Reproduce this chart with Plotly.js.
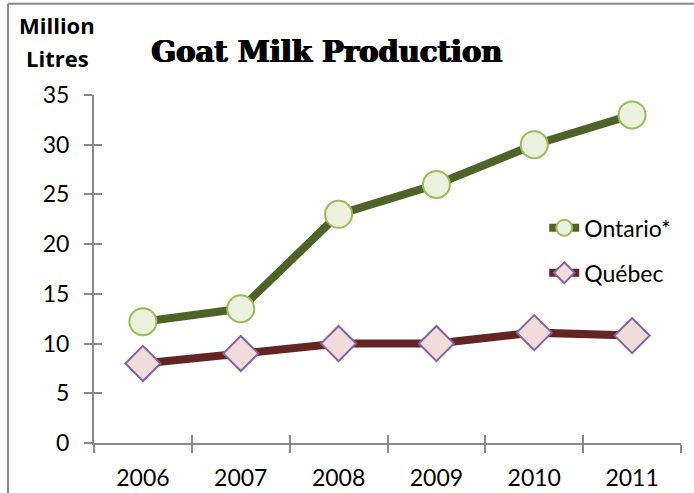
<!DOCTYPE html>
<html>
<head>
<meta charset="utf-8">
<script src="https://cdn.plot.ly/plotly-3.0.1.min.js"></script>
<style>html,body{margin:0;padding:0;background:#fff;}#chart{width:694px;height:493px;}</style>
</head>
<body>
<div id="chart"></div>
<script>
const years = ['2006', '2007', '2008', '2009', '2010', '2011'];
const ontario = [12.2, 13.5, 23.0, 26.0, 30.0, 33.0];
const quebec = [8.0, 9.0, 10.0, 10.0, 11.1, 10.8];
const yTicks = [0, 5, 10, 15, 20, 25, 30, 35];

const axisGray = '#898989';

const traces = [
  {
    x: years, y: ontario, name: 'Ontario*', type: 'scatter', mode: 'lines+markers',
    legendgroup: 'a',
    line: {color: '#4F6228', width: 8},
    marker: {symbol: 'circle', size: 27, color: '#EBF1DE', line: {color: '#9BBB59', width: 2}},
    hoverinfo: 'skip'
  },
  {
    x: years, y: quebec, name: 'Québec', type: 'scatter', mode: 'lines+markers',
    legendgroup: 'b',
    line: {color: '#632523', width: 8},
    marker: {symbol: 'diamond', size: 27, color: '#F2DCDB', line: {color: '#8064A2', width: 2}},
    hoverinfo: 'skip'
  },
  {
    x: years, y: ontario, xaxis: 'x2', yaxis: 'y2', mode: 'none', type: 'scatter',
    showlegend: false, hoverinfo: 'skip'
  }
];

const layout = {
  width: 694, height: 493,
  margin: {l: 94, r: 13, t: 95, b: 50},
  paper_bgcolor: '#fff', plot_bgcolor: '#fff',
  font: {family: 'Lato, sans-serif', size: 23, color: '#000'},
  showlegend: true,
  title: {
    text: '<b>Goat Milk Production</b>',
    font: {family: 'DejaVu Serif', size: 29, color: '#000',
           shadow: '0.8px 0 0 #000, -0.8px 0 0 #000, 0 0.5px 0 #000'},
    x: 0.471, xref: 'container', xanchor: 'center',
    y: 0.895, yref: 'container', yanchor: 'middle'
  },
  xaxis: {
    type: 'category', range: [-0.5, 5.5], tickson: 'boundaries',
    ticks: 'outside', ticklen: 8, tickwidth: 2, tickcolor: axisGray,
    showline: true, linecolor: axisGray, linewidth: 2,
    showgrid: false, zeroline: false, ticklabelstandoff: 13,
    tickfont: {family: 'Lato, sans-serif', size: 23}, fixedrange: true
  },
  yaxis: {
    range: [0, 35], tickvals: yTicks, ticks: 'outside', ticklen: 8, tickwidth: 2, tickcolor: axisGray,
    showline: true, linecolor: axisGray, linewidth: 2,
    showgrid: false, zeroline: false, ticklabelstandoff: 10,
    tickfont: {family: 'Lato, sans-serif', size: 23}, fixedrange: true
  },
  xaxis2: {
    type: 'category', overlaying: 'x', range: [-0.5, 5.5], tickson: 'boundaries',
    ticks: 'inside', ticklen: 8, tickwidth: 2, tickcolor: axisGray,
    showticklabels: false, showline: false, showgrid: false, zeroline: false, side: 'bottom'
  },
  yaxis2: {
    overlaying: 'y', range: [0, 35], tickvals: yTicks,
    ticks: 'inside', ticklen: 8, tickwidth: 2, tickcolor: axisGray,
    showticklabels: false, showline: false, showgrid: false, zeroline: false, side: 'left'
  },
  legend: {
    x: 0.767, xanchor: 'left', y: 0.68, yanchor: 'top',
    bgcolor: 'rgba(0,0,0,0)', traceorder: 'grouped', tracegroupgap: 12,
    font: {family: 'Lato, sans-serif', size: 23}
  },
  annotations: [
    {text: '<b>Million</b>', xref: 'paper', yref: 'paper', x: -0.063, y: (443 - 25) / 348,
     xanchor: 'center', yanchor: 'middle', showarrow: false,
     font: {family: 'Open Sans', size: 22}},
    {text: '<b>Litres</b>', xref: 'paper', yref: 'paper', x: -0.063, y: (443 - 58) / 348,
     xanchor: 'center', yanchor: 'middle', showarrow: false,
     font: {family: 'Open Sans', size: 22}}
  ],
  shapes: [
    {type: 'line', xref: 'paper', yref: 'paper', x0: (8 - 94) / 587, x1: (8 - 94) / 587,
     y0: 1.262, y1: -0.2, line: {color: '#8a8a8a', width: 2}},
    {type: 'line', xref: 'paper', yref: 'paper', x0: (8 - 94) / 587, x1: 1.1,
     y0: 1.262, y1: 1.262, line: {color: '#8a8a8a', width: 2}}
  ]
};

Plotly.newPlot('chart', traces, layout, {displayModeBar: false, staticPlot: true});
</script>
</body>
</html>
